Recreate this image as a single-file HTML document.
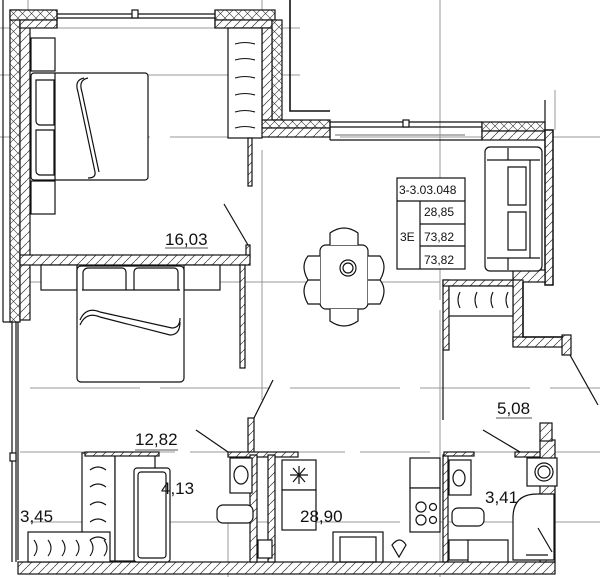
<!DOCTYPE html><html><head><meta charset="utf-8"><style>html,body{margin:0;padding:0;background:#fff}svg{display:block}text{font-family:"Liberation Sans",sans-serif;fill:#111}</style></head><body>
<svg width="600" height="577" viewBox="0 0 600 577" xmlns="http://www.w3.org/2000/svg">
<defs>
<pattern id="h" width="9" height="9" patternUnits="userSpaceOnUse"><rect width="9" height="9" fill="#fff"/><path d="M0 9L9 0" stroke="#333" stroke-width="0.7"/></pattern>
<pattern id="x" width="9" height="9" patternUnits="userSpaceOnUse"><rect width="9" height="9" fill="#fff"/><path d="M0 9L9 0M0 0L9 9" stroke="#333" stroke-width="0.6"/></pattern>
</defs>
<g fill="none" stroke="#999" stroke-width="1">
<line x1="0" y1="28" x2="300" y2="28"/><line x1="0" y1="75" x2="300" y2="75"/><line x1="0" y1="137" x2="600" y2="137" stroke-dasharray="150 20"/>
<line x1="30" y1="388" x2="600" y2="388" stroke-dasharray="110 20"/><line x1="20" y1="452" x2="600" y2="452" stroke-dasharray="70 15"/>
<line x1="30" y1="522" x2="600" y2="522" stroke-dasharray="110 20"/><line x1="30" y1="282" x2="440" y2="282" stroke-dasharray="130 20"/>
<line x1="262" y1="150" x2="262" y2="400"/><line x1="228" y1="520" x2="228" y2="577"/><line x1="440" y1="0" x2="440" y2="577" stroke-dasharray="300 10"/>
<line x1="555" y1="90" x2="555" y2="130"/><line x1="262" y1="0" x2="262" y2="40"/><line x1="28" y1="0" x2="28" y2="10"/>
</g>
<g stroke="#111" stroke-width="1.2">
<line x1="3" y1="0" x2="3" y2="322" fill="none"/>
<rect x="10" y="10" width="10" height="312" fill="url(#x)"/>
<rect x="20" y="20" width="10" height="300" fill="url(#h)"/>
<path d="M3 322H12V562M16 322V562M18 322V560" fill="none"/>
<rect x="10" y="453" width="6" height="8" fill="#fff"/>
<rect x="10" y="10" width="47" height="10" fill="url(#x)"/>
<rect x="20" y="20" width="37" height="8" fill="url(#h)"/>
<rect x="215" y="10" width="60" height="10" fill="url(#x)"/>
<rect x="215" y="20" width="57" height="8" fill="url(#h)"/>
<path d="M57 14H215M57 18H215M57 10V28M215 10V28" fill="none"/>
<rect x="132" y="10" width="6" height="8" fill="#fff"/>
<path d="M290 0V111H330" fill="none" stroke-width="1.6"/>
<rect x="272" y="20" width="10" height="100" fill="url(#x)"/>
<rect x="262" y="28" width="10" height="100" fill="url(#h)"/>
<rect x="262" y="120" width="68" height="8" fill="url(#x)"/>
<rect x="250" y="128" width="80" height="9" fill="url(#h)"/>
<path d="M330 122H482M330 127H482M330 140H482M330 122V140M482 122V140" fill="none"/>
<rect x="403" y="120" width="6" height="7" fill="#fff"/>
<line x1="335" y1="135" x2="465" y2="135" stroke="#888"/>
<rect x="482" y="122" width="63" height="9" fill="url(#x)"/>
<rect x="482" y="131" width="63" height="9" fill="url(#h)"/>
<path d="M545 100V130" fill="none"/>
<rect x="545" y="130" width="8" height="155" fill="url(#h)" stroke-width="1.5"/>
<rect x="513" y="270" width="32" height="12" fill="url(#h)"/>
<rect x="443" y="280" width="6" height="70" fill="url(#h)"/>
<rect x="443" y="280" width="72" height="6" fill="url(#h)"/>
<rect x="513" y="280" width="10" height="65" fill="url(#h)"/>
<rect x="513" y="337" width="50" height="10" fill="url(#h)"/>
<rect x="562" y="335" width="9" height="20" fill="url(#h)"/>
<path d="M523 282V337H563" fill="none" stroke-width="1.5"/>
<rect x="449" y="286" width="64" height="30" fill="#fff"/>
<line x1="570" y1="355" x2="598" y2="405"/>
<line x1="443" y1="350" x2="443" y2="420"/>
<rect x="228" y="28" width="34" height="110" fill="#fff"/>
<rect x="248" y="138" width="4" height="48" fill="url(#h)"/>
<rect x="246" y="245" width="4" height="12" fill="url(#h)"/>
<line x1="224" y1="204" x2="248" y2="245"/>
<rect x="20" y="255" width="230" height="10" fill="url(#h)"/>
<rect x="240" y="265" width="5" height="103" fill="url(#h)"/>
<rect x="31" y="38" width="24" height="33" fill="#fff"/>
<rect x="31" y="181" width="24" height="33" fill="#fff"/>
<rect x="31" y="73" width="117" height="107" rx="3" fill="#fff"/>
<path d="M55 73V180M36 80h18v45H40a4 4 0 0 1-4-4zM36 130h18v45H40a4 4 0 0 1-4-4z" fill="none"/>
<path d="M84 78Q74 80 78 92L95 172Q96 178 88 178M88 78Q78 80 82 92L99 172" fill="none"/>
<rect x="41" y="265" width="36" height="25" fill="#fff"/>
<rect x="184" y="265" width="36" height="25" fill="#fff"/>
<rect x="77" y="266" width="107" height="116" rx="4" fill="#fff"/>
<path d="M82 290H180M83 290v-17a5 5 0 0 1 5-5h34a4 4 0 0 1 4 4v18M134 290v-18a4 4 0 0 1 4-4h36a4 4 0 0 1 4 4v18" fill="none"/>
<path d="M80 320Q86 306 100 312L172 328Q180 328 180 318M80 325Q86 311 100 317L170 335Q180 335 180 322" fill="none"/>
<rect x="320" y="245" width="48" height="64" rx="6" fill="#fff"/>
<path d="M330 245v-12q14-10 28 0v12M330 309v12q14 10 28 0v-12M320 256h-12q-8 10 0 24h12M320 280h-12q-8 10 0 24h12M368 256h12q8 10 0 24h-12M368 280h12q8 10 0 24h-12" fill="#fff"/>
<circle cx="348" cy="268" r="8" fill="none"/><circle cx="348" cy="268" r="5" fill="none"/>
<rect x="397" y="178" width="68" height="91" fill="#fff"/>
<path d="M397 201H465M420 201V269M420 224H465M420 246H465" fill="none"/>
<rect x="485" y="147" width="57" height="124" rx="5" fill="#fff"/>
<path d="M487 160H540M487 258H540M508 148V160M508 258V270M530 160V258" fill="none"/>
<path d="M508 167h18v38h-18zM508 212h18v38h-18z" fill="#fff"/>
<rect x="18" y="562" width="537" height="12" fill="url(#h)"/>
<rect x="82" y="453" width="33" height="108" fill="#fff"/>
<rect x="28" y="532" width="82" height="30" fill="#fff"/>
<rect x="115" y="453" width="40" height="108" fill="#fff"/>
<rect x="134" y="468" width="36" height="94" rx="3" fill="#fff"/>
<rect x="138" y="472" width="28" height="86" rx="3" fill="none"/>
<rect x="85" y="452" width="74" height="4" fill="url(#h)"/>
<rect x="248" y="418" width="6" height="36" fill="url(#h)"/>
<rect x="228" y="452" width="70" height="5" fill="url(#h)"/>
<rect x="250" y="455" width="7" height="107" fill="url(#h)"/>
<rect x="268" y="455" width="7" height="107" fill="url(#h)"/>
<line x1="254" y1="418" x2="273" y2="380"/>
<line x1="196" y1="430" x2="228" y2="452"/>
<rect x="230" y="458" width="22" height="35" fill="#fff"/><ellipse cx="241" cy="475" rx="7" ry="9" fill="none"/>
<rect x="217" y="505" width="36" height="18" rx="6" fill="#fff"/>
<rect x="258" y="540" width="14" height="18" fill="#fff"/>
<rect x="282" y="460" width="34" height="30" fill="#fff"/><rect x="282" y="490" width="34" height="40" fill="#fff"/>
<path d="M290 475H308M299 466V484M293 468L305 482M305 468L293 482" fill="none"/>
<rect x="333" y="532" width="50" height="30" fill="#fff"/><rect x="340" y="537" width="36" height="25" fill="none"/>
<path d="M392 545q8-10 14 0l-7 12z" fill="none"/>
<rect x="410" y="458" width="30" height="30" fill="#fff"/><rect x="410" y="488" width="30" height="44" fill="#fff"/>
<circle cx="421" cy="507" r="5" fill="none"/><circle cx="433" cy="507" r="3.5" fill="none"/><circle cx="421" cy="520" r="5" fill="none"/><circle cx="433" cy="520" r="3.5" fill="none"/>
<rect x="443" y="455" width="5" height="107" fill="url(#h)"/>
<rect x="444" y="452" width="30" height="4" fill="url(#h)"/>
<line x1="483" y1="430" x2="520" y2="452"/>
<rect x="449" y="460" width="22" height="35" fill="#fff"/><ellipse cx="459" cy="478" rx="6" ry="8" fill="none"/>
<rect x="452" y="508" width="32" height="18" rx="6" fill="#fff"/>
<rect x="449" y="540" width="20" height="20" fill="#fff"/><rect x="468" y="540" width="40" height="22" fill="#fff"/>
<rect x="540" y="440" width="15" height="122" fill="url(#h)"/>
<rect x="515" y="452" width="25" height="5" fill="url(#h)"/>
<rect x="527" y="458" width="30" height="28" fill="#fff"/><circle cx="544" cy="472" r="9" fill="none"/><circle cx="544" cy="472" r="6" fill="none"/>
<path d="M513 560V518q0-24 24-24h17v66z" fill="#fff"/>
<line x1="526" y1="555" x2="548" y2="555"/><line x1="538" y1="528" x2="552" y2="552"/>
<rect x="540" y="423" width="12" height="18" fill="url(#h)"/>
</g>
<g stroke="#111" stroke-width="1.1" fill="none">
<path d="M235 44q10-3 20 0M235 60q10-3 20 0M235 78q10-3 20 0M235 95q10-3 20 0M235 112q10-3 20 0M235 128q10-3 20 0"/>
<path d="M460 292q-4 8 0 16M477 292q-4 8 0 16M493 292q-4 8 0 16M508 292q-4 8 0 16"/>
<path d="M90 470q8-6 16 0M90 487q8-6 16 0M90 505q8-6 16 0M90 522q8-6 16 0M90 540q8-6 16 0"/>
<path d="M34 540q6 8 0 16M48 540q6 8 0 16M62 540q6 8 0 16M76 540q6 8 0 16M90 540q6 8 0 16M104 540q6 8 0 16"/>
</g>
<g font-size="17">
<text x="165" y="245">16,03</text><line x1="165" y1="248" x2="208" y2="248" stroke="#555"/>
<text x="135" y="445">12,82</text><line x1="135" y1="450" x2="178" y2="450" stroke="#555"/>
<text x="161" y="494">4,13</text><text x="20" y="522">3,45</text><text x="300" y="522">28,90</text>
<text x="485" y="503">3,41</text><text x="497" y="414">5,08</text><line x1="496" y1="418" x2="532" y2="418" stroke="#555"/>
</g>
<g font-size="12"><text x="399" y="194">3-3.03.048</text><text x="424" y="216">28,85</text><text x="400" y="241">3E</text><text x="424" y="241">73,82</text><text x="424" y="264">73,82</text></g>
</svg></body></html>
